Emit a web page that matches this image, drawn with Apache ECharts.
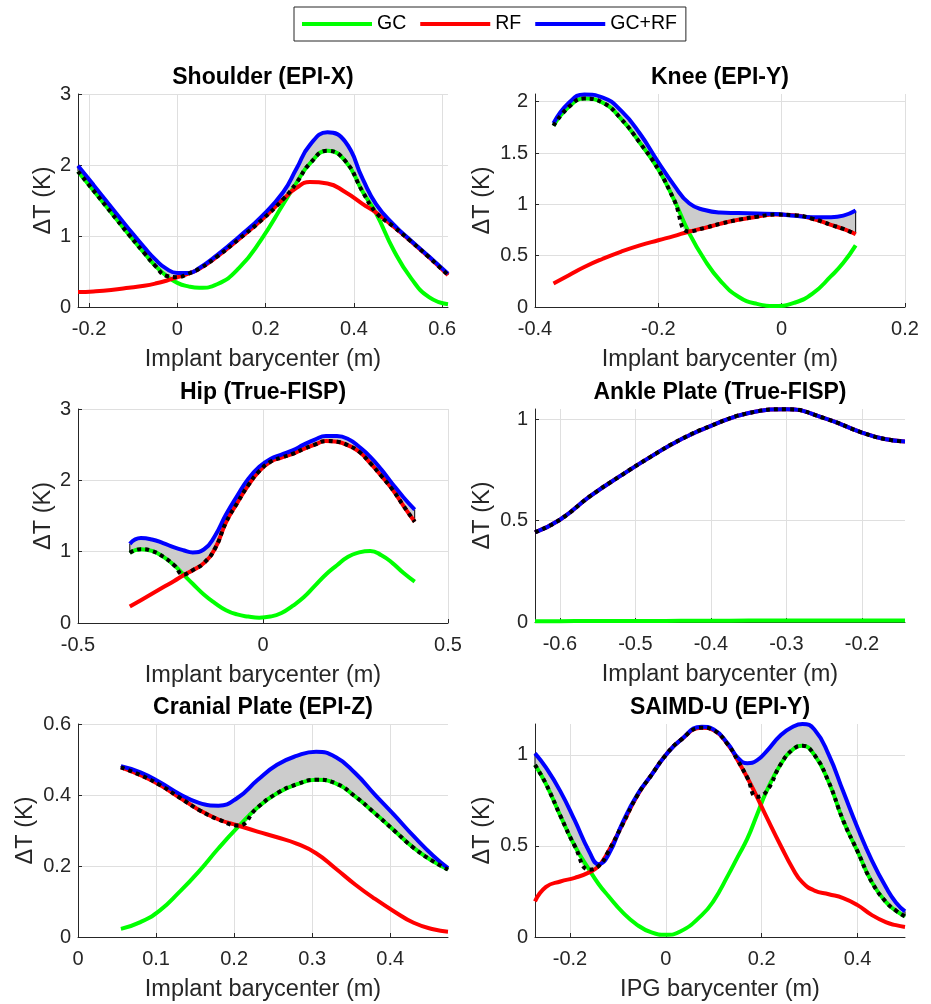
<!DOCTYPE html>
<html>
<head>
<meta charset="utf-8">
<title>Temperature rise per implant</title>
<script src="https://cdn.jsdelivr.net/npm/echarts@6/dist/echarts.min.js"></script>
<style>
  html, body { margin: 0; padding: 0; background: #fff; }
  #chart { width: 931px; height: 1004px; }
</style>
</head>
<body>
<div id="chart"></div>
<script>
// ---- data ----
const titles = ['Shoulder (EPI-X)', 'Knee (EPI-Y)', 'Hip (True-FISP)', 'Ankle Plate (True-FISP)', 'Cranial Plate (EPI-Z)', 'SAIMD-U (EPI-Y)'];
const xNames = ['Implant barycenter (m)', 'Implant barycenter (m)', 'Implant barycenter (m)', 'Implant barycenter (m)', 'Implant barycenter (m)', 'IPG barycenter (m)'];
const yName = 'ΔT (K)';
const legendNames = ['GC', 'RF', 'GC+RF'];

const shoulderX   = [-0.225, -0.19, -0.15, -0.11, -0.075, -0.05, -0.025, 0, 0.025, 0.05, 0.09, 0.14, 0.19, 0.24, 0.27, 0.3, 0.34, 0.38, 0.42, 0.45, 0.49, 0.53, 0.57, 0.613];
const shoulderGC  = [1.91, 1.64, 1.33, 1.02, 0.76, 0.58, 0.44, 0.34, 0.29, 0.27, 0.32, 0.55, 0.95, 1.45, 1.75, 2.02, 2.20, 2.06, 1.62, 1.32, 0.80, 0.40, 0.14, 0.04];
const shoulderRF  = [0.21, 0.22, 0.24, 0.27, 0.30, 0.33, 0.37, 0.42, 0.47, 0.54, 0.71, 0.96, 1.22, 1.52, 1.68, 1.76, 1.74, 1.62, 1.45, 1.33, 1.13, 0.92, 0.70, 0.45];
const shoulderSum = [1.99, 1.72, 1.41, 1.10, 0.84, 0.67, 0.54, 0.48, 0.48, 0.55, 0.73, 0.99, 1.27, 1.62, 1.95, 2.28, 2.46, 2.33, 1.80, 1.45, 1.16, 0.93, 0.71, 0.47];

const kneeX   = [-0.37, -0.345, -0.32, -0.29, -0.26, -0.23, -0.2, -0.175, -0.15, -0.125, -0.1, -0.07, -0.04, -0.01, 0.02, 0.05, 0.08, 0.1, 0.12];
const kneeGC  = [1.765, 1.95, 2.03, 1.99, 1.83, 1.60, 1.34, 1.05, 0.72, 0.46, 0.26, 0.10, 0.03, 0.01, 0.04, 0.13, 0.30, 0.43, 0.60];
const kneeRF  = [0.23, 0.31, 0.39, 0.47, 0.54, 0.60, 0.65, 0.69, 0.735, 0.77, 0.81, 0.85, 0.88, 0.90, 0.895, 0.86, 0.80, 0.76, 0.71];
const kneeSum = [1.79, 1.99, 2.07, 2.04, 1.91, 1.69, 1.41, 1.19, 1.01, 0.945, 0.92, 0.915, 0.91, 0.905, 0.89, 0.875, 0.875, 0.89, 0.94];

const hipX   = [-0.36, -0.33, -0.3, -0.27, -0.24, -0.215, -0.19, -0.16, -0.13, -0.1, -0.07, -0.04, -0.01, 0.02, 0.05, 0.08, 0.11, 0.14, 0.17, 0.2, 0.23, 0.26, 0.29, 0.32, 0.35, 0.38, 0.41];
const hipGC  = [0.985, 1.035, 1.01, 0.93, 0.81, 0.68, 0.55, 0.40, 0.28, 0.18, 0.12, 0.09, 0.075, 0.09, 0.14, 0.24, 0.36, 0.52, 0.68, 0.81, 0.93, 0.99, 1.01, 0.95, 0.84, 0.70, 0.58];
const hipRF  = [0.23, 0.32, 0.41, 0.50, 0.59, 0.67, 0.74, 0.84, 1.04, 1.41, 1.68, 1.93, 2.13, 2.26, 2.32, 2.37, 2.44, 2.50, 2.55, 2.54, 2.49, 2.40, 2.24, 2.06, 1.87, 1.64, 1.42];
const hipSum = [1.11, 1.19, 1.17, 1.12, 1.06, 1.02, 0.99, 1.03, 1.22, 1.52, 1.78, 2.02, 2.19, 2.30, 2.36, 2.42, 2.50, 2.57, 2.62, 2.62, 2.58, 2.47, 2.33, 2.15, 1.95, 1.76, 1.59];

const ankleX   = [-0.633, -0.6, -0.56, -0.52, -0.48, -0.44, -0.4, -0.35, -0.3, -0.25, -0.2, -0.17, -0.143];
const ankleGC  = [0.004, 0.004, 0.005, 0.005, 0.005, 0.006, 0.006, 0.007, 0.007, 0.008, 0.008, 0.008, 0.008];
const ankleRF  = [0.442, 0.504, 0.62, 0.72, 0.814, 0.90, 0.967, 1.03, 1.049, 1.005, 0.934, 0.902, 0.89];
const ankleSum = [0.442, 0.504, 0.62, 0.72, 0.814, 0.90, 0.967, 1.03, 1.049, 1.005, 0.934, 0.902, 0.89];

const cranialX   = [0.055, 0.08, 0.105, 0.13, 0.155, 0.18, 0.205, 0.23, 0.255, 0.28, 0.305, 0.33, 0.355, 0.38, 0.405, 0.43, 0.455, 0.474];
const cranialGC  = [0.023, 0.042, 0.075, 0.127, 0.185, 0.25, 0.31, 0.365, 0.405, 0.43, 0.443, 0.433, 0.396, 0.349, 0.30, 0.251, 0.213, 0.19];
const cranialRF  = [0.478, 0.456, 0.428, 0.393, 0.358, 0.331, 0.314, 0.297, 0.281, 0.263, 0.236, 0.193, 0.148, 0.108, 0.072, 0.040, 0.022, 0.015];
const cranialSum = [0.481, 0.464, 0.436, 0.403, 0.378, 0.370, 0.393, 0.442, 0.485, 0.51, 0.522, 0.507, 0.462, 0.402, 0.344, 0.284, 0.229, 0.194];

const saimdX   = [-0.273, -0.25, -0.22, -0.19, -0.16, -0.14, -0.12, -0.09, -0.06, -0.03, 0, 0.03, 0.075, 0.1, 0.13, 0.15, 0.17, 0.19, 0.21, 0.24, 0.265, 0.285, 0.31, 0.34, 0.37, 0.4, 0.43, 0.46, 0.48, 0.499];
const saimdGC  = [0.945, 0.84, 0.665, 0.50, 0.37, 0.29, 0.225, 0.135, 0.067, 0.025, 0.012, 0.03, 0.12, 0.20, 0.34, 0.44, 0.54, 0.67, 0.80, 0.95, 1.03, 1.05, 1.0, 0.85, 0.64, 0.47, 0.30, 0.19, 0.145, 0.113];
const saimdRF  = [0.196, 0.275, 0.305, 0.325, 0.355, 0.39, 0.47, 0.62, 0.775, 0.89, 1.0, 1.08, 1.15, 1.135, 1.055, 0.97, 0.875, 0.77, 0.66, 0.50, 0.375, 0.30, 0.255, 0.235, 0.214, 0.175, 0.12, 0.08, 0.065, 0.055];
const saimdSum = [1.009, 0.93, 0.80, 0.64, 0.47, 0.40, 0.45, 0.63, 0.78, 0.89, 1.0, 1.08, 1.155, 1.14, 1.06, 0.985, 0.955, 0.97, 1.02, 1.11, 1.155, 1.17, 1.14, 1.0, 0.80, 0.60, 0.42, 0.27, 0.19, 0.141];

// tick labels
const shoulderXTicks = [-0.2, 0, 0.2, 0.4, 0.6];
const shoulderYTicks = [0, 1, 2, 3];
const kneeXTicks = [-0.4, -0.2, 0, 0.2];
const kneeYTicks = [0, 0.5, 1, 1.5, 2];
const hipXTicks = [-0.5, 0, 0.5];
const hipYTicks = [0, 1, 2, 3];
const ankleXTicks = [-0.6, -0.5, -0.4, -0.3, -0.2];
const ankleYTicks = [0, 0.5, 1];
const cranialXTicks = [0, 0.1, 0.2, 0.3, 0.4];
const cranialYTicks = [0, 0.2, 0.4, 0.6];
const saimdXTicks = [-0.2, 0, 0.2, 0.4];
const saimdYTicks = [0, 0.5, 1];

const panels = [
  { x: shoulderX, gc: shoulderGC, rf: shoulderRF, sum: shoulderSum, xTicks: shoulderXTicks, yTicks: shoulderYTicks },
  { x: kneeX, gc: kneeGC, rf: kneeRF, sum: kneeSum, xTicks: kneeXTicks, yTicks: kneeYTicks },
  { x: hipX, gc: hipGC, rf: hipRF, sum: hipSum, xTicks: hipXTicks, yTicks: hipYTicks },
  { x: ankleX, gc: ankleGC, rf: ankleRF, sum: ankleSum, xTicks: ankleXTicks, yTicks: ankleYTicks },
  { x: cranialX, gc: cranialGC, rf: cranialRF, sum: cranialSum, xTicks: cranialXTicks, yTicks: cranialYTicks },
  { x: saimdX, gc: saimdGC, rf: saimdRF, sum: saimdSum, xTicks: saimdXTicks, yTicks: saimdYTicks }
];

// ---- layout (pixels, axis limits) ----
const layout = [
  { left: 78,  top: 94,  h: 213, xMin: -0.225, xMax: 0.613, yMax: 3,     yGap: 22 },
  { left: 535, top: 94,  h: 213, xMin: -0.4,   xMax: 0.2,   yMax: 2.075, yGap: 40 },
  { left: 78,  top: 409, h: 214, xMin: -0.5,   xMax: 0.5,   yMax: 3,     yGap: 22 },
  { left: 535, top: 409, h: 213, xMin: -0.633, xMax: -0.143, yMax: 1.05, yGap: 40 },
  { left: 78,  top: 724, h: 213, xMin: 0,      xMax: 0.474, yMax: 0.6,   yGap: 40 },
  { left: 535, top: 724, h: 213, xMin: -0.273, xMax: 0.499, yMax: 1.17,  yGap: 40 }
];

const FONT = "'Liberation Sans', Arial, Helvetica, sans-serif";
const AX = '#262626';
const GRIDC = '#dfdfdf';
const SMOOTH = 0.5;

// same bezier smoothing the line series uses, sampled into points
function smoothPts(pts, smooth) {
  const out = [pts[0].slice()];
  let c0x = pts[0][0], c0y = pts[0][1];
  for (let i = 1; i < pts.length; i++) {
    const px = pts[i - 1][0], py = pts[i - 1][1];
    const x = pts[i][0], y = pts[i][1];
    let c1x = x, c1y = y, nx0 = x, ny0 = y;
    if (i < pts.length - 1) {
      const nx = pts[i + 1][0], ny = pts[i + 1][1];
      let vx = nx - px, vy = ny - py;
      const lp = Math.hypot(x - px, y - py), ln = Math.hypot(nx - x, ny - y);
      const r = ln / (ln + lp);
      nx0 = x + vx * smooth * r; ny0 = y + vy * smooth * r;
      nx0 = Math.min(nx0, Math.max(nx, x)); ny0 = Math.min(ny0, Math.max(ny, y));
      nx0 = Math.max(nx0, Math.min(nx, x)); ny0 = Math.max(ny0, Math.min(ny, y));
      vx = nx0 - x; vy = ny0 - y;
      c1x = x - vx * lp / ln; c1y = y - vy * lp / ln;
      c1x = Math.min(c1x, Math.max(px, x)); c1y = Math.min(c1y, Math.max(py, y));
      c1x = Math.max(c1x, Math.min(px, x)); c1y = Math.max(c1y, Math.min(py, y));
      vx = x - c1x; vy = y - c1y;
      nx0 = x + vx * ln / lp; ny0 = y + vy * ln / lp;
    }
    for (let s = 1; s <= 12; s++) {
      const t = s / 12, u = 1 - t;
      out.push([
        u * u * u * px + 3 * u * u * t * c0x + 3 * u * t * t * c1x + t * t * t * x,
        u * u * u * py + 3 * u * u * t * c0y + 3 * u * t * t * c1y + t * t * t * y
      ]);
    }
    c0x = nx0; c0y = ny0;
  }
  return out;
}

function fillBetween(xs, top, bottom) {
  return function (params, api) {
    const up = smoothPts(xs.map((v, k) => api.coord([v, top[k]])), SMOOTH);
    const low = smoothPts(xs.map((v, k) => api.coord([v, bottom[k]])), SMOOTH);
    const a = up[0], b = up[up.length - 1], c = low[0], d = low[low.length - 1];
    return {
      type: 'group',
      children: [
        { type: 'polygon', shape: { points: up.concat(low.slice().reverse()) }, style: { fill: '#cccccc', stroke: null } },
        { type: 'line', shape: { x1: a[0], y1: a[1], x2: c[0], y2: c[1] }, style: { stroke: '#000', lineWidth: 1 } },
        { type: 'line', shape: { x1: b[0], y1: b[1], x2: d[0], y2: d[1] }, style: { stroke: '#000', lineWidth: 1 } }
      ]
    };
  };
}

const grids = [], xAxes = [], yAxes = [], series = [], titleOpts = [];

panels.forEach(function (p, i) {
  const L = layout[i];
  grids.push({ left: L.left, top: L.top, width: 370, height: L.h, outerBoundsMode: 'none' });
  titleOpts.push({
    text: titles[i], left: L.left + 185, top: L.top - 28, textAlign: 'center', padding: 0,
    textStyle: { fontFamily: FONT, fontSize: 23, fontWeight: 'bold', color: '#000' }
  });
  xAxes.push({
    type: 'value', gridIndex: i, min: L.xMin, max: L.xMax,
    name: xNames[i], nameLocation: 'middle', nameGap: 41,
    nameTextStyle: { fontFamily: FONT, fontSize: 23.5, color: AX },
    axisLine: { show: true, onZero: false, lineStyle: { color: AX, width: 1 } },
    axisTick: { show: true, inside: true, length: 4, customValues: p.xTicks, lineStyle: { color: AX } },
    axisLabel: { customValues: p.xTicks, fontFamily: FONT, fontSize: 20, color: AX, margin: 12 },
    splitLine: { show: true, lineStyle: { color: GRIDC, width: 1 } }
  });
  yAxes.push({
    type: 'value', gridIndex: i, min: 0, max: L.yMax,
    name: yName, nameLocation: 'middle', nameGap: L.yGap, nameRotate: 90,
    nameTextStyle: { fontFamily: FONT, fontSize: 23.5, color: AX },
    axisLine: { show: true, onZero: false, lineStyle: { color: AX, width: 1 } },
    axisTick: { show: true, inside: true, length: 4, customValues: p.yTicks, lineStyle: { color: AX } },
    axisLabel: { customValues: p.yTicks, fontFamily: FONT, fontSize: 20, color: AX, margin: 7 },
    splitLine: { show: true, lineStyle: { color: GRIDC, width: 1 } }
  });

  const envelope = p.gc.map((v, k) => Math.max(v, p.rf[k]));
  const pairs = arr => p.x.map((v, k) => [v, arr[k]]);
  const base = { type: 'line', xAxisIndex: i, yAxisIndex: i, smooth: SMOOTH, showSymbol: false, symbol: 'none', silent: true };

  series.push({
    type: 'custom', name: 'fill', xAxisIndex: i, yAxisIndex: i, silent: true, z: 1,
    data: [[p.x[0], envelope[0]]], renderItem: fillBetween(p.x, p.sum, envelope)
  });
  series.push(Object.assign({}, base, { name: 'GC', data: pairs(p.gc), color: '#00ff00', z: 2, lineStyle: { width: 4, color: '#00ff00' } }));
  series.push(Object.assign({}, base, { name: 'RF', data: pairs(p.rf), color: '#ff0000', z: 3, lineStyle: { width: 4, color: '#ff0000' } }));
  series.push(Object.assign({}, base, { name: 'GC+RF', data: pairs(p.sum), color: '#0000ff', z: 4, lineStyle: { width: 4, color: '#0000ff' } }));
  series.push(Object.assign({}, base, { name: 'max', data: pairs(envelope), color: '#000', z: 5, lineStyle: { width: 4, color: '#000', type: [4, 4], cap: 'butt' } }));
});

const chart = echarts.init(document.getElementById('chart'));
chart.setOption({
  animation: false,
  backgroundColor: '#fff',
  title: titleOpts,
  legend: {
    data: legendNames, left: 294, top: 7, orient: 'horizontal',
    icon: 'rect', itemWidth: 70, itemHeight: 4, itemGap: 14,
    padding: [7, 9, 7, 8], borderColor: AX, borderWidth: 1,
    textStyle: { fontFamily: FONT, fontSize: 19.5, color: '#000' },
    selectedMode: false
  },
  grid: grids,
  xAxis: xAxes,
  yAxis: yAxes,
  series: series
});
</script>
</body>
</html>
